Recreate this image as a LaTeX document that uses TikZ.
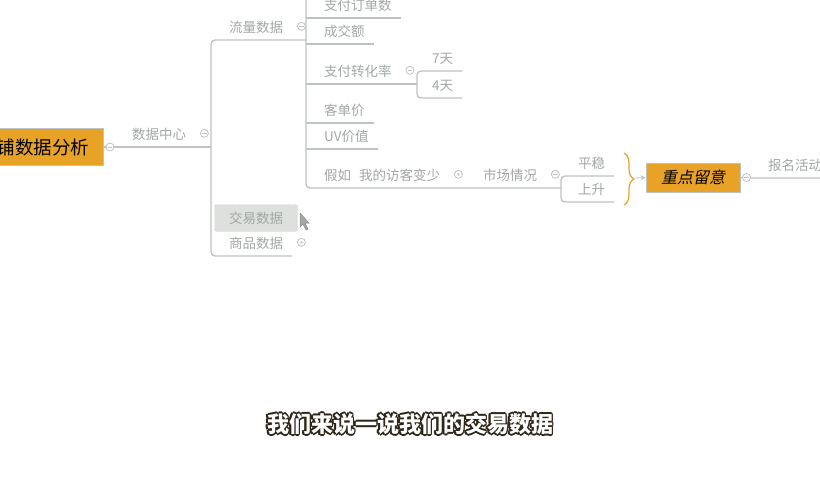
\documentclass[tikz,border=0pt]{standalone}
\usepackage{fontspec}
\setmainfont{Noto Sans CJK SC}
\newfontfamily\slantfont{Noto Sans CJK SC}[FakeSlant=0.2]
\usetikzlibrary{arrows.meta,decorations.pathreplacing,calc}
\definecolor{lngray}{HTML}{BDC3C0}
\definecolor{txtgray}{HTML}{A2A8A5}
\definecolor{mapor}{HTML}{E8A226}
\definecolor{selgray}{HTML}{DEE0DE}
\definecolor{subdark}{HTML}{2E2618}
\begin{document}
\begin{tikzpicture}[x=1pt, y=-1pt,
		ln/.style={draw=lngray, line width=1.3pt},
		leaf/.style={anchor=south west, inner xsep=9pt, inner ysep=5pt, text height=11pt, text depth=2pt,
			text=txtgray, font=\fontsize{13.5}{14}\selectfont, execute at begin node={\hspace*{#1}}},
		leaf/.default=9pt,
		tog/.style={circle, draw=lngray, fill=white, line width=.8pt, inner sep=0pt, minimum size=8pt,
			path picture={\draw[lngray, line width=.8pt] ([xshift=1.8pt]path picture bounding box.west) -- ([xshift=-1.8pt]path picture bounding box.east);}},
		togdot/.style={circle, draw=lngray, fill=white, line width=.8pt, inner sep=0pt, minimum size=8pt,
			path picture={\fill[lngray] (path picture bounding box.center) circle [radius=1.3pt];}},
		topic/.style={draw=lngray, fill=mapor, line width=1pt, text=black},
		sel/.style={draw=lngray, densely dotted, fill=selgray, rounded corners=2pt, minimum width=83pt,
			minimum height=27pt, text=txtgray, font=\fontsize{13.5}{14}\selectfont},
		sub/.style={font=\fontsize{22}{24}\selectfont\bfseries}
	]
	\fill[white] (0,0) rectangle (820,480);
	\useasboundingbox (0,0) rectangle (820,480);
	
	% main topics
	\node[topic, anchor=east, minimum height=37pt, inner xsep=14pt, font=\fontsize{18.5}{20}\selectfont] (root) at (104,147) {店铺数据分析};
	\node[topic, minimum width=94pt, minimum height=29pt, font=\slantfont\fontsize{16}{18}\selectfont] (zdly) at (693,177.5) {重点留意};
	
	% first level
	\node[leaf] (sjzx) at (114,147) {数据中心};
	\node[leaf] (llsj) at (211,40) {流量数据};
	\node[sel] (jysj) at (256,218) {交易数据};
	\node[leaf] (spsj) at (211,256) {商品数据};
	\coordinate (b2) at (306,-10);
	
	% children of 流量数据
	\foreach \n/\t/\y in {zfdd/支付订单数/18, cje/成交额/44, kdj/客单价/123, uv/UV价值/149} {
		\node[leaf] (\n) at (306,\y) {\t};
		\draw[ln] (\n.south west) -- (\n.south east);
	}
	\node[leaf] (zfzh) at (306,84) {支付转化率};
	\node[leaf=6pt] (d7) at (417,71) {7天};
	\node[leaf=6pt] (d4) at (417,98) {4天};
	\node[leaf] (jr) at (306,188) {假如\hspace{8pt}我的访客变少};
	\node[leaf] (sc) at (465,188) {市场情况};
	\node[leaf=8pt] (pw) at (561,176) {平稳};
	\node[leaf=8pt] (ss) at (561,202) {上升};
	\node[leaf] (bmhd) at (750,178) {报名活动};
	
	% connectors
	\draw[ln] (root.east) -- (sjzx.south west -| llsj.south west);
	\draw[ln, rounded corners=4pt] (llsj.south west -| b2) -- (llsj.south west) -- (spsj.south west) -- (spsj.south east);
	\draw[ln, rounded corners=4pt] (b2) -- (jr.south west) -- (jr.south west -| pw.south west);
	\draw[ln] (zfzh.south west) -- (zfzh.south west -| d7.south west);
	\draw[ln, rounded corners=4pt] (d7.south east) -- (d7.south west) -- (d4.south west) -- (d4.south east);
	\draw[ln, rounded corners=4pt] (pw.south east) -- (pw.south west) -- (ss.south west) -- (ss.south east);
	\draw[ln] (zdly.east) -- (bmhd.south west) -- (bmhd.south east);
	
	% summary brace
	\draw[mapor, line width=1.2pt, decorate, decoration={brace, amplitude=10pt}] (624,153) -- (624,205);
	\coordinate (brtip) at (635,178);
	\draw[ln, line width=.8pt, -{Stealth[length=5pt, width=5pt]}] (brtip) -- (zdly.west);
	
	% toggles
	\node[tog] (t0) at ($(root.east)+(6,0)$) {};
	\node[tog] (t1) at ($(sjzx.east)+(9,-2)$) {};
	\node[tog] (t2) at ($(llsj.east)+(9,-2)$) {};
	\node[tog] (t3) at ($(zfzh.east)+(9,-2)$) {};
	\node[togdot] (t4) at ($(jr.east)+(9,-2)$) {};
	\node[tog] (t5) at ($(sc.east)+(9,-2)$) {};
	\node[togdot] (t6) at ($(spsj.east)+(9,-2)$) {};
	\node[tog] (t7) at ($(zdly.east)+(6,0)$) {};
	
	% mouse pointer
	\filldraw[fill=gray!70, draw=gray!90, line width=.5pt] (300,213) -- (300,227) -- (303,224) -- (306,230) -- (308,229) -- (305,223) -- (309,223) -- cycle;
	
	% subtitle, outlined
	\foreach \a in {0,45,...,315} {
		\node[sub, text=subdark] (sh\a) at ($(410,424)+(\a:1.6)$) {我们来说一说我们的交易数据};
	}
	\node[sub, text=white] (subt) at (410,424) {我们来说一说我们的交易数据};
\end{tikzpicture}
\end{document}
